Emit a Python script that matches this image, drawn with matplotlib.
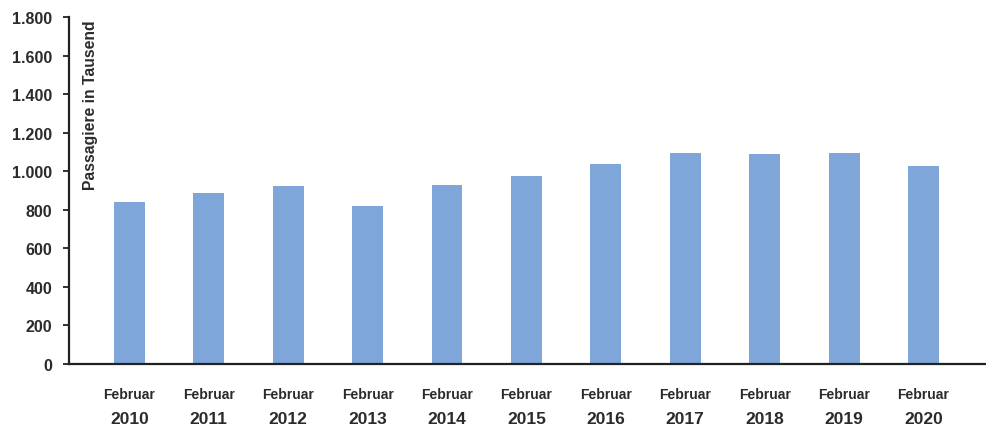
import matplotlib.pyplot as plt
import numpy as np

plt.rcParams['font.family'] = ['Liberation Sans', 'DejaVu Sans']

months = ["Februar"] * 11
years = ["2010", "2011", "2012", "2013", "2014", "2015",
         "2016", "2017", "2018", "2019", "2020"]
passagiere = [840, 887, 923, 820, 929, 975, 1037, 1095, 1089, 1095, 1027]

text_color = "#2b2b2b"
bar_color = "#7EA6D9"

fig = plt.figure(figsize=(9.87, 4.27), dpi=100)
ax = fig.add_axes([0.0699, 0.1452, 0.9301, 0.8126])

x = np.arange(len(years))
ax.bar(x, passagiere, width=0.39, color=bar_color, zorder=2)

ax.set_xlim(-0.76, 10.8)
ax.set_ylim(0, 1800)
ax.set_yticks(np.arange(0, 1801, 200))
ax.set_yticklabels([f"{v:,}".replace(",", ".") for v in range(0, 1801, 200)])
ax.tick_params(axis='y', direction='out', length=4, width=1.3, pad=8,
               labelsize=11.5, labelcolor=text_color, color="#222222")
for lab in ax.get_yticklabels():
    lab.set_fontweight('bold')
ax.set_xticks([])

for side in ["top", "right"]:
    ax.spines[side].set_visible(False)
ax.spines["left"].set_linewidth(1.6)
ax.spines["bottom"].set_linewidth(1.6)
ax.spines["left"].set_color("#222222")
ax.spines["bottom"].set_color("#222222")

# zweizeilige Kategorien unter der Achse
trans = ax.get_xaxis_transform()
for xi, m, yr in zip(x, months, years):
    ax.text(xi, -0.086, m, transform=trans, ha='center', va='center',
            fontsize=10, fontweight='bold', color=text_color)
    ax.text(xi, -0.158, yr, transform=trans, ha='center', va='center',
            fontsize=12.5, fontweight='bold', color=text_color)

ax.text(0.023, 0.994, "Passagiere in Tausend", transform=ax.transAxes,
        rotation=90, ha='center', va='top', fontsize=11.3, fontweight='bold',
        color=text_color)

fig.savefig("out.png", dpi=100)
